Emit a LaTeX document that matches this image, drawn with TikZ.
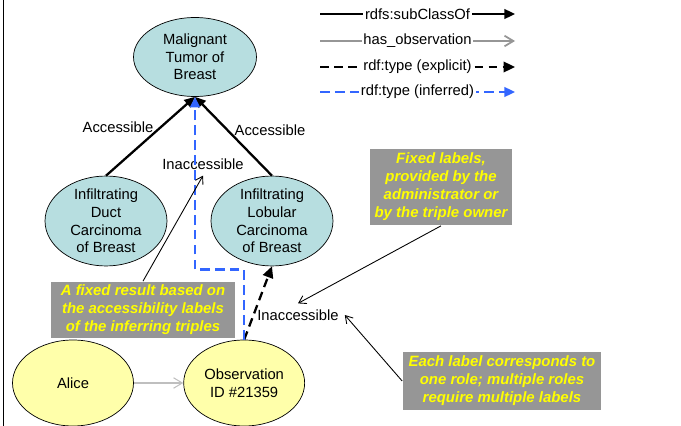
\documentclass[tikz,border=0pt]{standalone}
\usepackage{fontspec}
\setmainfont{Liberation Sans}
\usepackage{xcolor}
\usepackage{tikz}
\usetikzlibrary{
    positioning,
    arrows.meta,
    shapes.geometric
}
\definecolor{classteal}{RGB}{183,222,224}
\definecolor{instyellow}{RGB}{255,255,170}
\definecolor{notegray}{RGB}{150,150,150}
\definecolor{notetext}{RGB}{255,255,0}
\definecolor{inferblue}{RGB}{51,102,255}
\tikzset{
    class_node/.style={
        ellipse, draw, fill=classteal,
        inner sep=0pt, align=center,
        minimum width=2.44cm, minimum height=1.74cm
    },
    inst_node/.style={
        ellipse, draw, fill=instyellow,
        inner sep=0pt, align=center,
        minimum width=2.42cm, minimum height=1.72cm
    },
    notebox/.style={
        rectangle, fill=notegray, text=notetext, align=center,
        inner sep=2pt, font=\fontsize{8.5}{10.2}\selectfont\bfseries\itshape
    },
    acclabel/.style={
        inner sep=1pt
    }
}

\begin{document}
\begin{tikzpicture}[
    x=0.02cm, y=-0.02cm,
    font=\fontsize{8.4}{10}\selectfont,
    subclass_arrow/.style={-{Triangle[length=6pt, width=5.5pt]}, line width=1.3pt},
    observ_arrow/.style={-{Straight Barb[length=5pt, width=6pt]}, draw=notegray, line width=1pt},
    explicit_arrow/.style={-{Triangle[length=6.5pt, width=6pt]}, line width=1.3pt, dash pattern=on 5pt off 3pt},
    inferred_arrow/.style={-{Triangle[length=6pt, width=5.5pt]}, draw=inferblue, line width=1.5pt, dash pattern=on 5.5pt off 3pt},
    note_arrow/.style={-{Straight Barb[length=4pt, width=5pt]}, line width=0.5pt},
    legend_label/.style={midway, fill=white, inner sep=1pt}
]
    \useasboundingbox (0,0) rectangle (681,426);
    \draw (3,0) -- (3,426);

    % --- CLASSES ---
    \node[class_node, minimum height=1.58cm, minimum width=2.46cm] (malignant) at (195,57) {Malignant\\Tumor of\\Breast};
    \node[class_node, minimum height=1.76cm] (duct) at (106,221) {Infiltrating\\Duct\\Carcinoma\\of Breast};
    \node[class_node] (lobular) at (272,221) {Infiltrating\\Lobular\\Carcinoma\\of Breast};

    % --- INSTANCES ---
    \node[inst_node] (alice) at (73,383) {Alice};
    \node[inst_node, right=0.99cm of alice] (observation) {Observation\\ID \#21359};

    % --- LABELS ---
    \node[acclabel] (acc_left) at (118,127) {Accessible};
    \node[acclabel] (acc_right) at (270,130) {Accessible};
    \node (inacc_top) at (203,164) {Inaccessible};
    \node (inacc_mid) at (298,315) {Inaccessible};

    % --- NOTES ---
    \node[notebox, minimum width=3.7cm, minimum height=1.14cm] (note_fixed_result) at (143,310) {A fixed result based on\\the accessibility labels\\of the inferring triples};
    \node[notebox, minimum width=2.84cm, minimum height=1.54cm] (note_fixed_labels) at (441,187) {Fixed labels,\\provided by the\\administrator or\\by the triple owner};
    \node[notebox, minimum width=3.98cm, minimum height=1.16cm] (note_roles) at (502,381) {Each label corresponds to\\one role; multiple roles\\require multiple labels};

    % --- ARROWS ---
    \draw[subclass_arrow] (duct.north) -- (malignant.south);
    \draw[subclass_arrow] (lobular.north) -- (malignant.south);
    \draw[observ_arrow, draw=black!25, line width=0.6pt] (alice) -- (observation);
    \draw[explicit_arrow] (observation.north) -- (lobular.south);
    \draw[inferred_arrow] (observation.north) -- ++(0,-70) -| (malignant.south);

    \draw[note_arrow] (note_fixed_result.north) -- (inacc_top.south);
    \draw[note_arrow] (note_fixed_labels.south) -- (inacc_mid.north);
    \draw[note_arrow] (note_roles.west) -- (inacc_mid.east);

    % --- LEGEND ---
    \coordinate (leg_sub_start) at (320,14);
    \coordinate (leg_sub_end) at (515,14);
    \coordinate (leg_obs_start) at (320,41);
    \coordinate (leg_obs_end) at (515,41);
    \coordinate (leg_exp_start) at (320,67);
    \coordinate (leg_exp_end) at (515,67);
    \coordinate (leg_inf_start) at (320,92);
    \coordinate (leg_inf_end) at (515,92);

    \draw[subclass_arrow, line width=1.1pt] (leg_sub_start) -- node[legend_label] {rdfs:subClassOf} (leg_sub_end);
    \draw[observ_arrow] (leg_obs_start) -- node[legend_label] {has\_observation} (leg_obs_end);
    \draw[explicit_arrow, line width=1.1pt] (leg_exp_start) -- node[legend_label] {rdf:type (explicit)} (leg_exp_end);
    \draw[inferred_arrow, line width=1.1pt] (leg_inf_start) -- node[legend_label, text=black] {rdf:type (inferred)} (leg_inf_end);

\end{tikzpicture}
\end{document}
